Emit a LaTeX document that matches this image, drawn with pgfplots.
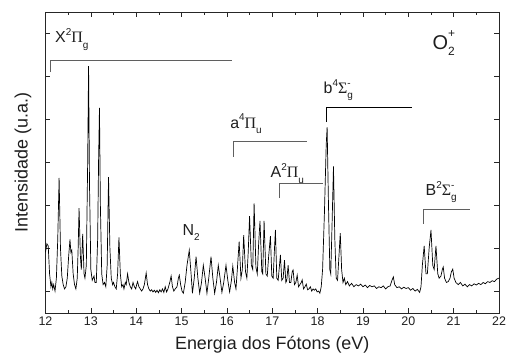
\documentclass[border=0pt]{standalone}
\usepackage{fontspec}
\setmainfont{Liberation Sans}
\newfontfamily\gkfont{Liberation Serif}
\usepackage{pgfplots}
\pgfplotsset{compat=1.18}
\definecolor{brk}{RGB}{95,95,95}
\definecolor{txt}{RGB}{30,30,30}
\newcommand{\Sb}[1]{\raisebox{-0.6ex}{\fontsize{10}{10}\selectfont #1}}
\newcommand{\Sp}[1]{\raisebox{0.85ex}{\fontsize{10}{10}\selectfont #1}}
\newcommand{\SpSb}[2]{\makebox[0pt][l]{\Sp{#1}}\Sb{#2}}
\newcommand{\GPi}{{\gkfont Π}}
\newcommand{\GSig}{{\gkfont Σ}}
\begin{document}
\begin{tikzpicture}
\begin{axis}[
  scale only axis,
  width=453.5bp, height=301bp,
  xmin=12, xmax=22, ymin=-0.51, ymax=6.49,
  xtick distance=1, minor x tick num=1,
  ytick={0,1,2,3,4,5,6}, yticklabels={},
  tick align=inside,
  major tick length=5bp, minor tick length=3.5bp,
  axis line style={line width=0.8pt, black!85},
  every tick/.style={black!85, line width=0.7pt},
  /pgf/number format/assume math mode=true,
  ticklabel style={font=\fontsize{12.5}{14}\selectfont, text=txt},
  xlabel={Energia dos Fótons (eV)},
  ylabel={Intensidade (u.a.)},
  label style={font=\fontsize{18}{20}\selectfont, text=txt},
  xlabel style={at={(axis description cs:0.5,-0.1063)}, anchor=center},
  ylabel style={at={(axis description cs:-0.0496,0.5)}, anchor=center},
  clip=true,
]
\addplot[black, line width=0.7pt] coordinates {
(12.00,0.9) (12.03,1.1) (12.06,1.05) (12.09,0.4) (12.12,0.1) (12.14,0.2) (12.16,0.05) (12.18,0.15) (12.21,0.0) (12.24,0.3) (12.27,1.2) (12.30,2.63) (12.33,1.0) (12.36,0.35) (12.39,0.15) (12.42,0.05) (12.45,0.1) (12.48,0.3) (12.51,0.8) (12.54,1.2) (12.56,0.9) (12.58,0.95) (12.61,0.4) (12.64,0.15) (12.67,0.05) (12.70,0.3) (12.72,1.0) (12.74,1.93) (12.77,0.8) (12.79,0.5) (12.82,1.33) (12.85,0.4) (12.87,0.3) (12.90,0.6) (12.93,3.0) (12.95,5.23) (12.97,2.5) (13.00,0.5) (13.03,0.25) (13.05,0.3) (13.07,0.35) (13.09,0.2) (13.12,0.2) (13.15,1.2) (13.17,3.0) (13.19,4.26) (13.21,2.0) (13.24,0.4) (13.27,0.15) (13.30,0.2) (13.33,0.1) (13.36,0.6) (13.39,2.65) (13.42,1.0) (13.45,0.3) (13.48,0.15) (13.50,0.2) (13.53,0.1) (13.56,0.05) (13.59,0.4) (13.62,1.25) (13.65,0.4) (13.68,0.1) (13.71,0.15) (13.73,0.05) (13.76,0.2) (13.78,0.15) (13.81,0.4) (13.84,0.2) (13.87,0.1) (13.90,0.05) (13.93,0.2) (13.96,0.1) (13.99,0.05) (14.01,0.15) (14.03,0.22) (14.06,0.1) (14.09,0.05) (14.12,0.0) (14.15,0.05) (14.18,0.15) (14.22,0.42) (14.25,0.15) (14.28,0.05) (14.31,0.0) (14.34,0.03) (14.37,-0.02) (14.40,0.02) (14.43,-0.03) (14.46,0.02) (14.49,-0.04) (14.52,0.03) (14.55,-0.02) (14.58,0.05) (14.61,-0.03) (14.64,0.1) (14.67,-0.02) (14.70,0.05) (14.74,0.2) (14.77,0.35) (14.80,0.1) (14.83,0.0) (14.86,0.05) (14.90,0.1) (14.93,0.3) (14.95,0.37) (14.98,0.15) (15.01,0.0) (15.04,-0.05) (15.08,0.2) (15.12,0.6) (15.17,0.95) (15.21,0.4) (15.24,-0.05) (15.28,0.3) (15.32,0.8) (15.36,0.3) (15.40,-0.05) (15.44,0.2) (15.48,0.6) (15.52,0.3) (15.56,-0.05) (15.60,0.3) (15.65,0.8) (15.69,0.3) (15.73,-0.05) (15.77,0.2) (15.81,0.6) (15.85,0.3) (15.89,-0.03) (15.93,0.2) (15.98,0.6) (16.02,0.25) (16.06,-0.02) (16.10,0.25) (16.13,0.58) (16.17,0.2) (16.20,0.05) (16.23,0.5) (16.27,1.15) (16.31,0.3) (16.34,0.5) (16.37,1.3) (16.41,0.45) (16.44,0.3) (16.47,0.9) (16.50,1.74) (16.54,0.6) (16.57,0.5) (16.60,2.04) (16.64,0.55) (16.67,0.4) (16.70,1.1) (16.73,1.63) (16.77,0.45) (16.79,0.4) (16.82,1.63) (16.86,0.4) (16.89,0.35) (16.92,0.8) (16.96,1.28) (16.99,0.35) (17.02,0.3) (17.05,1.0) (17.07,1.42) (17.10,0.3) (17.13,0.25) (17.16,0.6) (17.18,0.84) (17.21,0.25) (17.24,0.3) (17.27,0.72) (17.30,0.2) (17.32,0.25) (17.35,0.6) (17.38,0.2) (17.41,0.2) (17.44,0.45) (17.46,0.49) (17.49,0.15) (17.52,0.2) (17.55,0.37) (17.58,0.1) (17.61,0.15) (17.64,0.2) (17.66,0.26) (17.69,0.05) (17.72,0.1) (17.75,0.16) (17.78,0.03) (17.81,0.05) (17.84,0.1) (17.87,0.0) (17.90,0.05) (17.93,0.02) (17.96,0.05) (17.99,-0.02) (18.02,0.0) (18.05,-0.05) (18.08,0.1) (18.11,0.5) (18.15,1.8) (18.19,3.4) (18.21,3.81) (18.24,2.0) (18.27,0.5) (18.29,0.4) (18.32,1.6) (18.35,2.9) (18.38,1.2) (18.41,0.3) (18.44,0.25) (18.47,0.8) (18.50,1.35) (18.53,0.5) (18.56,0.2) (18.59,0.3) (18.62,0.15) (18.66,0.22) (18.70,0.12) (18.75,0.18) (18.80,0.1) (18.85,0.15) (18.90,0.12) (18.95,0.16) (19.00,0.1) (19.05,0.14) (19.10,0.08) (19.15,0.13) (19.20,0.1) (19.25,0.12) (19.30,0.06) (19.35,0.1) (19.40,0.08) (19.45,0.12) (19.50,0.05) (19.55,0.1) (19.60,0.12) (19.64,0.25) (19.67,0.33) (19.70,0.15) (19.75,0.08) (19.80,0.1) (19.85,0.05) (19.90,0.09) (19.95,0.06) (20.00,0.08) (20.05,0.02) (20.10,0.06) (20.15,0.0) (20.20,0.04) (20.25,-0.03) (20.28,0.1) (20.31,0.6) (20.35,1.05) (20.39,0.4) (20.42,0.4) (20.46,1.0) (20.50,1.42) (20.54,0.6) (20.57,0.5) (20.61,1.05) (20.65,0.4) (20.68,0.3) (20.72,0.35) (20.75,0.5) (20.77,0.56) (20.80,0.3) (20.84,0.2) (20.88,0.22) (20.92,0.3) (20.95,0.45) (20.98,0.51) (21.01,0.3) (21.05,0.2) (21.10,0.15) (21.15,0.2) (21.20,0.12) (21.25,0.16) (21.30,0.1) (21.35,0.15) (21.40,0.12) (21.45,0.17) (21.50,0.14) (21.55,0.18) (21.60,0.15) (21.65,0.2) (21.70,0.17) (21.75,0.22) (21.80,0.2) (21.85,0.24) (21.90,0.22) (21.95,0.28) (22.00,0.3)
};
% brackets
\draw[brk, line width=0.8pt] (axis cs:12.10,5.09) -- (axis cs:12.10,5.37) -- (axis cs:16.12,5.37);
\draw[brk, line width=0.8pt] (axis cs:16.14,3.12) -- (axis cs:16.14,3.47) -- (axis cs:17.77,3.47);
\draw[brk, line width=0.8pt] (axis cs:17.15,2.16) -- (axis cs:17.15,2.51) -- (axis cs:18.13,2.51);
\draw[black, line width=0.8pt] (axis cs:18.19,3.93) -- (axis cs:18.19,4.26) -- (axis cs:20.09,4.26);
\draw[brk, line width=0.8pt] (axis cs:20.34,1.56) -- (axis cs:20.34,1.91) -- (axis cs:21.37,1.91);
% labels
\begin{scope}[every node/.style={text=txt, inner sep=0pt, font=\fontsize{16}{18}\selectfont}]
\node[anchor=base west] at (axis cs:12.21,5.77) {X\Sp{2}\GPi\Sb{g}};
\node[anchor=base west] at (axis cs:16.07,3.79) {a\Sp{4}\GPi\Sb{u}};
\node[anchor=base west] at (axis cs:16.96,2.63) {A\Sp{2}\GPi\Sb{u}};
\node[anchor=base west] at (axis cs:18.13,4.60) {b\Sp{4}\GSig\SpSb{-}{g}};
\node[anchor=base west] at (axis cs:20.38,2.23) {B\Sp{2}\GSig\SpSb{-}{g}};
\node[anchor=base west] at (axis cs:15.02,1.30) {N\Sb{2}};
\node[anchor=base west, font=\fontsize{20}{22}\selectfont] at (axis cs:20.53,5.62) {O\makebox[0pt][l]{\raisebox{1.1ex}{\fontsize{12}{12}\selectfont +}}\raisebox{-0.6ex}{\fontsize{12}{12}\selectfont 2}};
\end{scope}
\end{axis}
\pgfresetboundingbox
\path ([shift={(-45.5bp,-48bp)}]current axis.south west) rectangle ([shift={(8bp,12bp)}]current axis.north east);
\end{tikzpicture}
\end{document}
